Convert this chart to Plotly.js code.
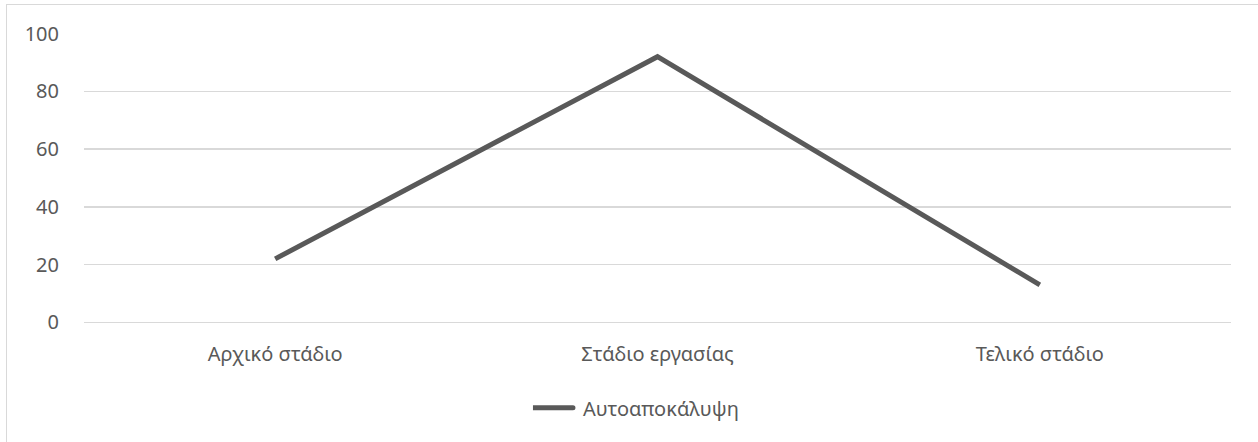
<!DOCTYPE html>
<html>
<head>
<meta charset="utf-8">
<script src="https://cdn.plot.ly/plotly-3.0.1.min.js"></script>
<style>
  html, body { margin: 0; padding: 0; background: #ffffff; }
  #wrap { position: relative; width: 1258px; height: 442px; overflow: hidden; }
  #chart { position: absolute; left: 0; top: 0; width: 1258px; height: 442px; }
  #frame { position: absolute; left: 6px; top: 4px; width: 1300px; height: 500px;
           border-left: 1.5px solid #d9d9d9; border-top: 1.5px solid #d9d9d9;
           pointer-events: none; }
</style>
</head>
<body>
<div id="wrap">
  <div id="chart"></div>
  <div id="frame"></div>
</div>
<script>
// Stages of the work and the self-disclosure score at each stage
const stages = ['Αρχικό στάδιο', 'Στάδιο εργασίας', 'Τελικό στάδιο'];
const selfDisclosure = [22, 92, 13];
const seriesName = 'Αυτοαποκάλυψη';
const yTicks = [0, 20, 40, 60, 80, 100];

const textColor = '#595959';
const gridColor = '#d9d9d9';
const fontFamily = '"Noto Sans", "Open Sans", sans-serif';
const fontSize = 20;

const traces = [{
  type: 'scatter',
  mode: 'lines',
  x: stages,
  y: selfDisclosure,
  name: seriesName,
  line: { color: '#595959', width: 5 },
  hoverinfo: 'x+y'
}];

const layout = {
  width: 1258,
  height: 442,
  margin: { l: 84, r: 27, t: 33, b: 119 },
  paper_bgcolor: '#ffffff',
  plot_bgcolor: '#ffffff',
  font: { family: fontFamily, size: fontSize, color: textColor },
  showlegend: true,
  legend: {
    orientation: 'h',
    x: 0.4834, xanchor: 'center',
    y: -0.225, yanchor: 'top',
    font: { family: fontFamily, size: fontSize, color: textColor },
    itemwidth: 40
  },
  xaxis: {
    type: 'category',
    range: [-0.5, 2.5],
    showgrid: false,
    zeroline: false,
    showline: false,
    ticks: '',
    ticklabelstandoff: 17,
    tickfont: { family: fontFamily, size: fontSize, color: textColor },
    fixedrange: true
  },
  yaxis: {
    range: [-0.2, 100.2],
    tickvals: yTicks,
    ticktext: yTicks.map(String),
    showgrid: true,
    gridcolor: gridColor,
    gridwidth: 1.5,
    zeroline: true,
    zerolinecolor: gridColor,
    zerolinewidth: 1.5,
    showline: false,
    ticks: '',
    ticklabelstandoff: 24,
    tickfont: { family: fontFamily, size: fontSize, color: textColor },
    fixedrange: true
  }
};

Plotly.newPlot('chart', traces, layout, { displayModeBar: false, staticPlot: true })
  .then(gd => {
    // longer, round-capped legend swatch for the line series
    gd.querySelectorAll('.legend .legendlines path').forEach(p => {
      p.setAttribute('d', 'M-10,0h50');
      p.style.strokeLinecap = 'round';
    });
  });
</script>
</body>
</html>
